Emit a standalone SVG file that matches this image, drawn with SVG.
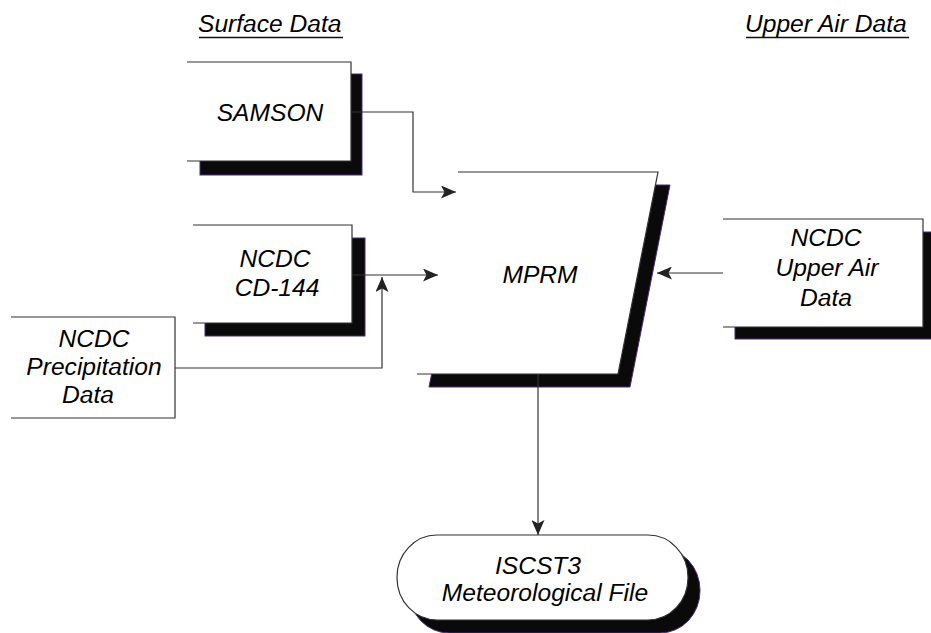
<svg xmlns="http://www.w3.org/2000/svg" width="931" height="633" viewBox="0 0 931 633">
<style>
.bg{fill:#ffffff}
.shadow{fill:#0a0a0a;stroke:#4b2a7a;stroke-width:1}
.face{fill:#ffffff;stroke:none}
.edge{fill:none;stroke:#333333;stroke-width:1.2}
.lbl{font-family:"Liberation Sans",Arial,sans-serif;font-style:italic;font-size:24.6px;fill:#000000;text-anchor:middle}
.hdr{font-family:"Liberation Sans",Arial,sans-serif;font-style:italic;font-size:24.6px;fill:#000000}
.ul{stroke:#111111;stroke-width:1.5}
.conn{fill:none;stroke:#333333;stroke-width:1.2}
.arrow{fill:#222222}
</style>
<defs>
<marker id="ah" markerUnits="userSpaceOnUse" viewBox="0 0 15 13" refX="15" refY="6.5" markerWidth="15" markerHeight="13" orient="auto">
<path class="arrow" d="M0,0 L15,6.5 L0,13 L3.5,6.5 Z"/>
</marker>
</defs>
<rect class="bg" x="0" y="0" width="931" height="633"/>

<g id="header-surface">
<text class="hdr" x="198" y="32">Surface Data</text>
<line class="ul" x1="199" y1="37.5" x2="343" y2="37.5"/>
</g>
<g id="header-upper">
<text class="hdr" x="745" y="32">Upper Air Data</text>
<line class="ul" x1="746" y1="37.5" x2="909" y2="37.5"/>
</g>

<g id="samson">
<rect class="shadow" x="200" y="74" width="162" height="101"/>
<rect class="face" x="187" y="62" width="164" height="99"/>
<path class="edge" d="M187,62 H351 V161 H187"/>
<text class="lbl" x="270" y="121">SAMSON</text>
</g>

<g id="cd144">
<rect class="shadow" x="205" y="238" width="160" height="98"/>
<rect class="face" x="193" y="225" width="159" height="98"/>
<path class="edge" d="M193,225 H352 V323 H193"/>
<text class="lbl"><tspan x="275" y="267">NCDC</tspan><tspan x="277" y="296">CD-144</tspan></text>
</g>

<g id="precip">
<rect class="face" x="11" y="317" width="164" height="101"/>
<path class="edge" d="M11,317 H175 V418 H11"/>
<text class="lbl"><tspan x="94" y="347">NCDC</tspan><tspan x="94" y="375">Precipitation</tspan><tspan x="88" y="403">Data</tspan></text>
</g>

<g id="mprm">
<polygon class="shadow" points="470,185 670,185 630,387 429,387"/>
<polygon class="face" points="458,172 658,172 618,374 417,374"/>
<path class="edge" d="M458,172 H658 L618,374 H417"/>
<text class="lbl" x="540" y="283">MPRM</text>
</g>

<g id="upperair">
<rect class="shadow" x="735" y="232" width="205" height="107"/>
<rect class="face" x="723" y="219" width="200" height="108"/>
<path class="edge" d="M723,219 H923 V327 H723"/>
<text class="lbl"><tspan x="826" y="246">NCDC</tspan><tspan x="827" y="276">Upper Air</tspan><tspan x="826" y="306">Data</tspan></text>
</g>

<g id="iscst3">
<rect class="shadow" x="409" y="548" width="291" height="85" rx="40" ry="42"/>
<rect class="face" x="397" y="535" width="291" height="85" rx="40" ry="42"/>
<rect class="edge" x="397" y="535" width="291" height="85" rx="40" ry="42"/>
<text class="lbl"><tspan x="538" y="574">ISCST3</tspan><tspan x="545" y="601">Meteorological File</tspan></text>
</g>

<g id="connectors">
<path class="conn" d="M351,112 H413 V192 H456" marker-end="url(#ah)"/>
<path class="conn" d="M352,275 H438" marker-end="url(#ah)"/>
<path class="conn" d="M175,368 H382 V277" marker-end="url(#ah)"/>
<path class="conn" d="M723,273 H657" marker-end="url(#ah)"/>
<path class="conn" d="M538,374 V535" marker-end="url(#ah)"/>
</g>
</svg>
